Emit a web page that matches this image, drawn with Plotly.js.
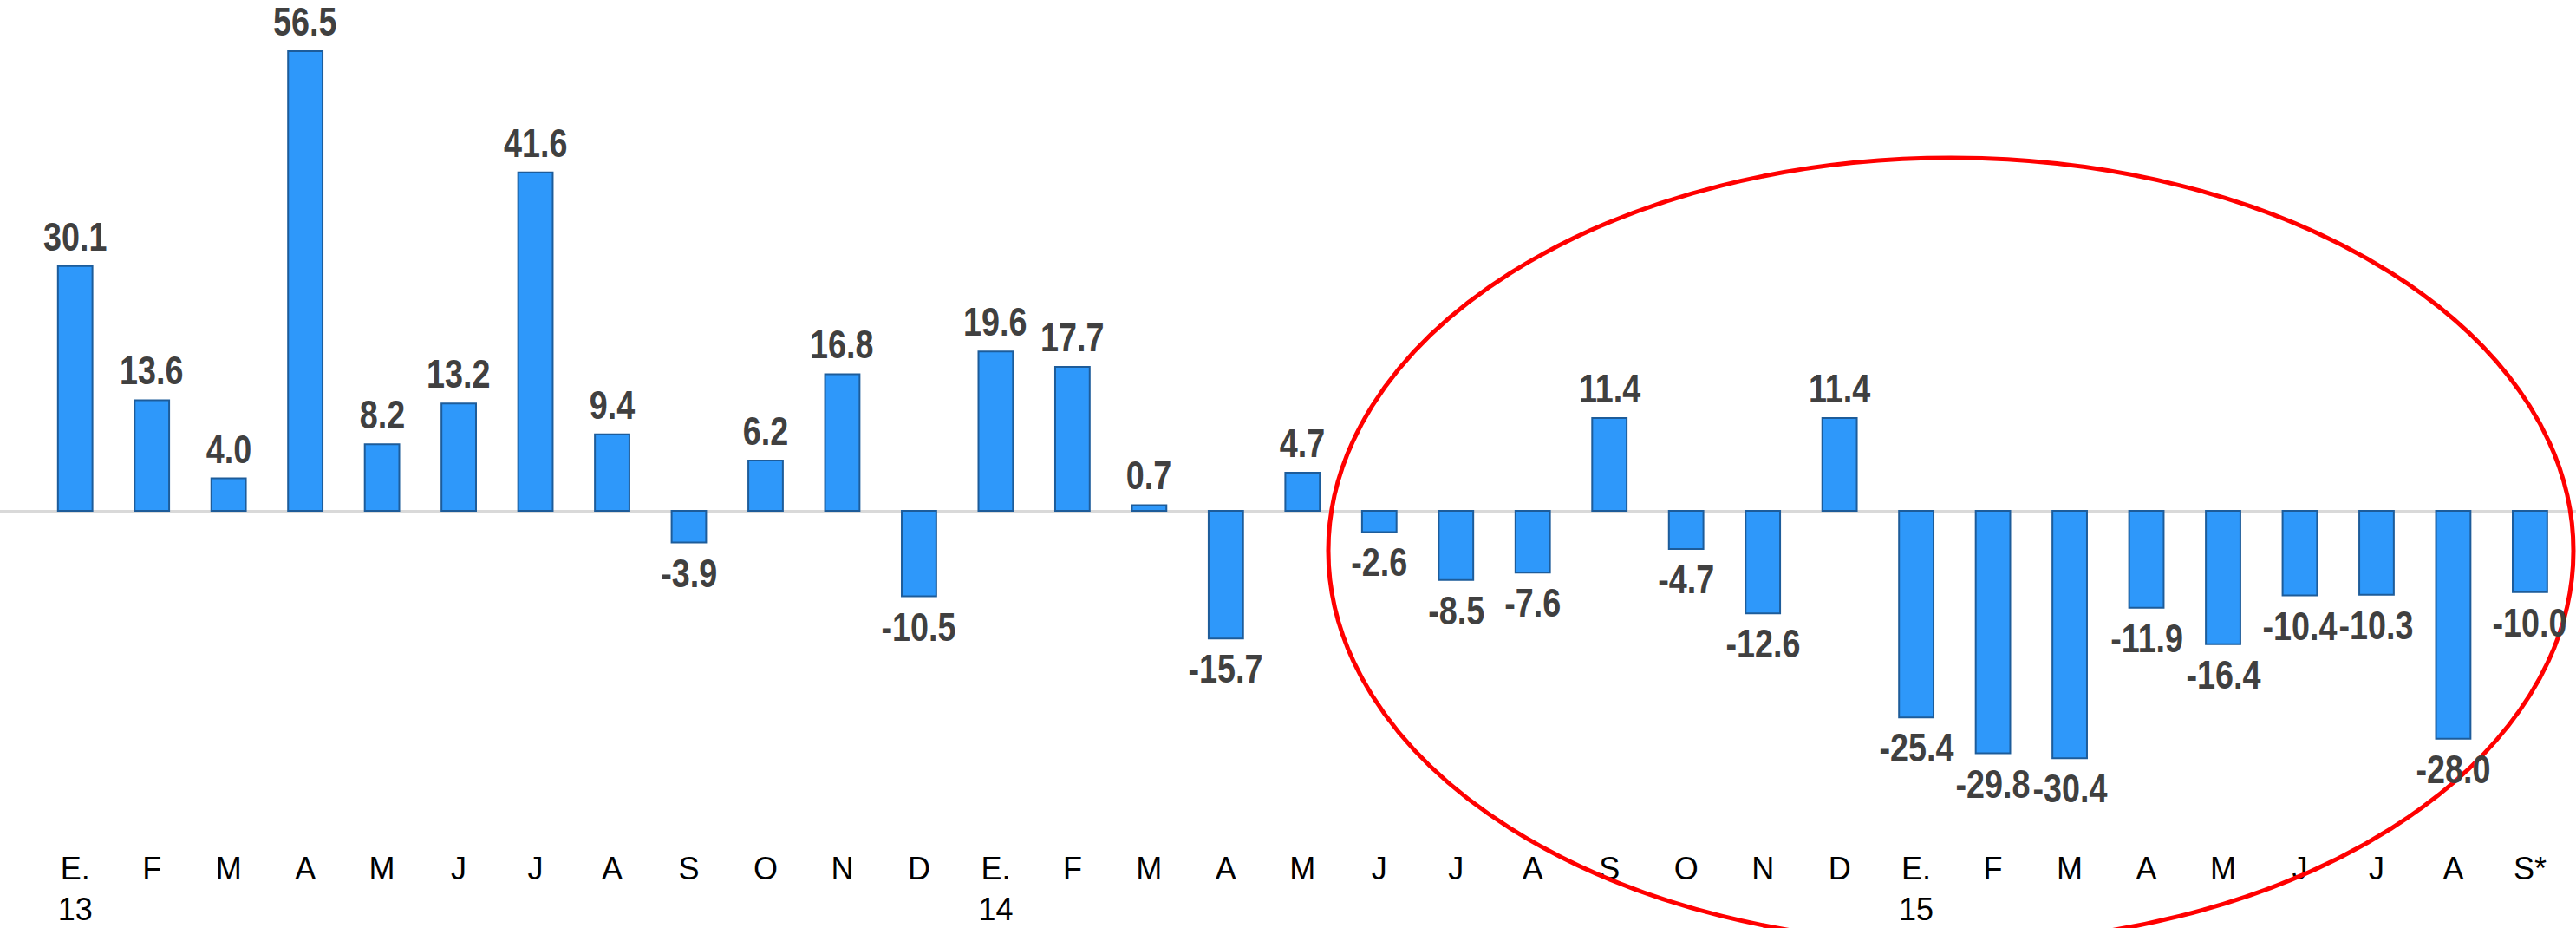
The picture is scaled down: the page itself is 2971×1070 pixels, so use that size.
<!DOCTYPE html>
<html>
<head>
<meta charset="utf-8">
<script src="https://cdn.plot.ly/plotly-3.0.1.min.js"></script>
<style>html,body{margin:0;padding:0;background:#fff;}#chart{width:2971px;height:1070px;}</style>
</head>
<body>
<div id="chart"></div>
<script>
// Month categories (unique keys) and their displayed tick labels
const categories = ["c01","c02","c03","c04","c05","c06","c07","c08","c09","c10","c11","c12",
  "c13","c14","c15","c16","c17","c18","c19","c20","c21","c22","c23","c24",
  "c25","c26","c27","c28","c29","c30","c31","c32","c33"];
const tickLabels = ["E.<br>13","F","M","A","M","J","J","A","S","O","N","D",
  "E.<br>14","F","M","A","M","J","J","A","S","O","N","D",
  "E.<br>15","F","M","A","M","J","J","A","S*"];
const values = [30.1,13.6,4.0,56.5,8.2,13.2,41.6,9.4,-3.9,6.2,16.8,-10.5,
  19.6,17.7,0.7,-15.7,4.7,-2.6,-8.5,-7.6,11.4,-4.7,-12.6,11.4,
  -25.4,-29.8,-30.4,-11.9,-16.4,-10.4,-10.3,-28.0,-10.0];
const labels = values.map(v => v.toFixed(1));

const labelFont = "'Liberation Sans', Arial, sans-serif";

const trace = {
  type: 'bar',
  x: categories,
  y: values,
  marker: {color: '#2E98FA', line: {color: '#1D5C9A', width: 2}},
  width: 0.45,
  hoverinfo: 'skip'
};

const annotations = values.map((v, i) => ({
  x: categories[i], y: v, xref: 'x', yref: 'y',
  text: labels[i], showarrow: false,
  yanchor: v >= 0 ? 'bottom' : 'top',
  yshift: v >= 0 ? 6 : -7,
  font: {family: labelFont, size: 46, color: '#404040', weight: 'bold'}
}));

const layout = {
  width: 2971, height: 1070,
  margin: {l: 0, r: 0, t: 0, b: 110},
  paper_bgcolor: '#ffffff', plot_bgcolor: '#ffffff',
  showlegend: false,
  xaxis: {
    type: 'category',
    range: [-0.98, 32.6],
    tickmode: 'array', tickvals: categories, ticktext: tickLabels,
    showgrid: false, showline: false, zeroline: false,
    ticks: 'outside', ticklen: 10, tickcolor: 'rgba(0,0,0,0)', tickangle: 0,
    tickfont: {family: labelFont, size: 36, color: '#000000'},
    automargin: false
  },
  yaxis: {
    range: [-39.55, 62.8],
    showgrid: false, showticklabels: false, ticks: '',
    zeroline: true, zerolinecolor: '#D9D9D9', zerolinewidth: 3,
    showline: false
  },
  annotations: annotations,
  shapes: [{
    type: 'circle', xref: 'paper', yref: 'paper',
    x0: 1532/2971, x1: 2968/2971, y0: 1 - 1088/960, y1: 1 - 182/960,
    line: {color: '#FF0000', width: 5}
  }]
};

function condense(sel, s) {
  document.querySelectorAll(sel).forEach(t => {
    const b = t.getBBox();
    const cx = b.x + b.width / 2;
    const tr = t.getAttribute('transform') || '';
    t.setAttribute('transform', tr + ' translate(' + cx + ',0) scale(' + s + ',1) translate(' + (-cx) + ',0)');
  });
}

Plotly.newPlot('chart', [trace], layout, {staticPlot: true}).then(() => {
  condense('#chart .annotation-text', 0.82);
});
</script>
</body>
</html>
